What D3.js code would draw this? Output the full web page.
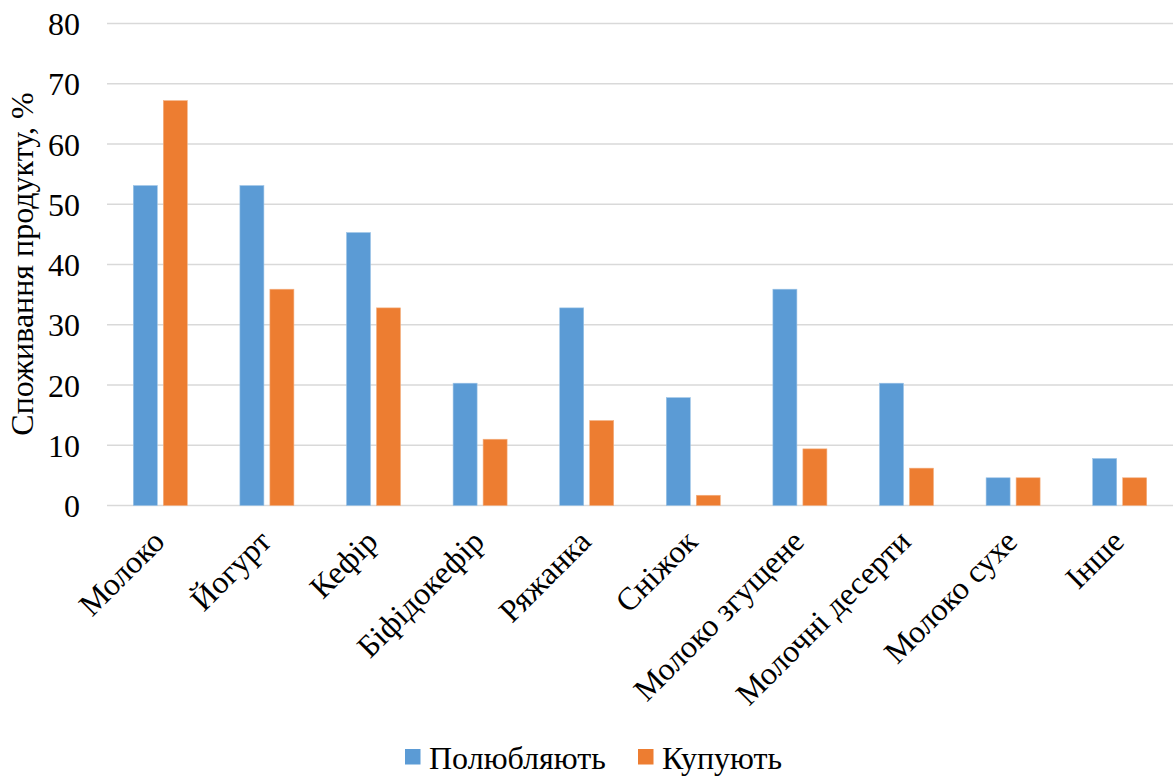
<!DOCTYPE html>
<html><head><meta charset="utf-8">
<script src="https://cdn.jsdelivr.net/npm/d3@7"></script>
<style>body{margin:0;background:#fff}svg{display:block}</style>
</head><body>
<svg id="c" width="1174" height="777"></svg>
<script>
const categories = ["Молоко","Йогурт","Кефір","Біфідокефір","Ряжанка","Сніжок","Молоко згущене","Молочні десерти","Молоко сухе","Інше"];
const seriesNames = ["Полюбляють","Купують"];
const liked = [53.1,53.1,45.3,20.3,32.8,17.9,35.9,20.3,4.6,7.8];
const bought = [67.2,35.9,32.8,11.0,14.1,1.7,9.4,6.2,4.6,4.6];
const yTicks = [0,10,20,30,40,50,60,70,80];
const yTitle = "Споживання продукту, %";
const colors = ["#5b9bd5","#ed7d31"];

const FONT = '"Liberation Serif", "Times New Roman", serif';
const FS = 32;

const svg = d3.select("#c").style("font-family", FONT);
const L = 107, R = 1173, T = 23.5, B = 505.5;
const x0 = d3.scaleBand().domain(categories).range([L, R]).padding(0);
const groupW = 54;
const x1 = d3.scaleBand().domain(seriesNames).range([0, groupW]).paddingInner(0.2).paddingOuter(0);
const y = d3.scaleLinear().domain([0, 80]).range([B, T]);

svg.append("g").selectAll("line").data(yTicks).join("line")
  .attr("x1", L).attr("x2", R)
  .attr("y1", d => y(d)).attr("y2", d => y(d))
  .attr("stroke", "#d9d9d9").attr("stroke-width", 1.5);

const yAxis = d3.axisLeft(y).tickValues(yTicks).tickSize(0).tickPadding(0);
const ya = svg.append("g").attr("transform", `translate(${L - 27},0)`).call(yAxis);
ya.attr("font-family", FONT).attr("font-size", FS);
ya.select(".domain").remove();
ya.selectAll("text").attr("font-size", FS).attr("font-family", FONT).attr("fill", "#000").attr("dy", "0.35em");

const data = categories.map((c, i) => ({c, vals: [liked[i], bought[i]]}));
const g = svg.append("g");
data.forEach(d => {
  const gx = x0(d.c) + (x0.bandwidth() - groupW) / 2;
  seriesNames.forEach((s, j) => {
    g.append("rect")
      .attr("x", gx + x1(s)).attr("width", x1.bandwidth())
      .attr("y", y(d.vals[j])).attr("height", y(0) - y(d.vals[j]))
      .attr("fill", colors[j])
      .attr("stroke", j === 0 ? "#9cc3e6" : "#f4b183").attr("stroke-width", 0.6);
  });
});

const xAxis = d3.axisBottom(x0).tickSize(0).tickPadding(0);
const xa = svg.append("g").attr("transform", `translate(0,${B})`).call(xAxis);
xa.attr("font-family", FONT).attr("font-size", FS);
xa.select(".domain").remove();
xa.selectAll("text")
  .attr("font-size", FS).attr("font-family", FONT).attr("fill", "#000")
  .attr("text-anchor", "end")
  .attr("y", 0).attr("dy", 0)
  .attr("transform", "translate(6,38) rotate(-45)");

svg.append("text").attr("transform", "translate(33,264) rotate(-90)")
  .attr("font-family", FONT)
  .attr("text-anchor", "middle").attr("font-size", FS).text(yTitle);

const leg = svg.append("g");
const legItems = [{x: 405, t: seriesNames[0], c: colors[0]}, {x: 638, t: seriesNames[1], c: colors[1]}];
legItems.forEach(it => {
  leg.append("rect").attr("x", it.x).attr("y", 749).attr("width", 15.5).attr("height", 15.5).attr("fill", it.c);
  leg.append("text").attr("x", it.x + 24).attr("y", 769).attr("font-family", FONT).attr("font-size", FS).text(it.t);
});
</script>
</body></html>
